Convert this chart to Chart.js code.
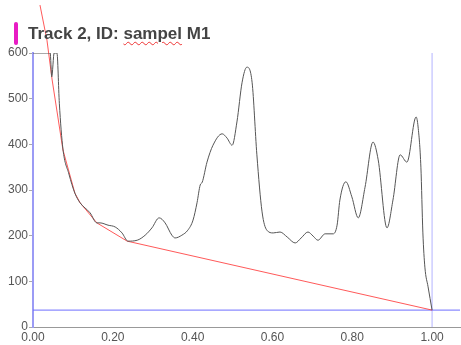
<!DOCTYPE html>
<html>
<head>
<meta charset="utf-8">
<script src="https://cdn.jsdelivr.net/npm/chart.js@4.4.1/dist/chart.umd.min.js"></script>
<style>
  html, body { margin: 0; padding: 0; background: #fff; }
  #wrap { position: relative; width: 461px; height: 345px; }
  #title {
    position: absolute; left: 28px; top: 24px;
    font: bold 17px "Liberation Sans", Arial, sans-serif; color: #444;
    white-space: nowrap;
  }
  #title .typo { text-decoration: underline wavy #e33; text-decoration-thickness: 1px; text-underline-offset: 2px; }
  #marker { position: absolute; left: 14px; top: 22px; width: 4px; height: 23px; background: #e81cc4; border-radius: 2px; }
  canvas { position: absolute; left: 0; top: 0; }
</style>
</head>
<body>
<div id="wrap">
  <canvas id="trackChart" width="461" height="345"></canvas>
  <div id="marker"></div>
  <div id="title">Track 2, ID: <span class="typo">sampel</span> M1</div>
</div>
<script>
// measured trace
var sampleX = [0, 0.035, 0.043, 0.047, 0.053, 0.060, 0.066, 0.075, 0.090, 0.105, 0.118, 0.143, 0.160, 0.168, 0.188,
    0.206, 0.223, 0.238, 0.261, 0.281, 0.298, 0.316, 0.331, 0.348, 0.356, 0.373, 0.388, 0.401, 0.411, 0.419,
    0.424, 0.436, 0.451, 0.474, 0.486, 0.499, 0.511, 0.524, 0.536, 0.549, 0.561, 0.574, 0.586, 0.602, 0.619,
    0.637, 0.657, 0.672, 0.689, 0.702, 0.714, 0.732, 0.752, 0.762, 0.769, 0.784, 0.799, 0.815, 0.832, 0.852,
    0.865, 0.887, 0.902, 0.920, 0.937, 0.960, 0.965, 0.972, 0.977, 0.982, 0.990, 1.0];
var sampleY = [600, 600, 600, 548, 600, 600, 490, 390, 335, 293, 272, 250, 228, 228, 223,
    219, 206, 188, 190, 201, 217, 239, 228, 201, 195, 201, 212, 234, 272, 311,
    317, 361, 398, 423, 414, 398, 449, 536, 569, 536, 377, 252, 212, 206, 208,
    197, 184, 195, 208, 199, 190, 204, 204, 223, 278, 318, 285, 239, 306, 405,
    366, 217, 278, 377, 361, 460, 438, 350, 206, 131, 88, 37];

// baseline (red)
var baseX = [0.0175, 0.035, 0.048, 0.075, 0.105, 0.118, 0.160, 0.236, 1.0];
var baseY = [705, 628, 541, 388, 293, 272, 228, 188, 37];

// markers
var levelY = 37;
var endX = 1.0;
var xTicks = [0, 0.2, 0.4, 0.6, 0.8, 1.0];
var yTicks = [0, 100, 200, 300, 400, 500, 600];

function pts(xs, ys) {
    var out = [];
    for (var i = 0; i < xs.length; i++) {
        out.push({ x: xs[i], y: ys[i] });
    }
    return out;
}

window.addEventListener('load', function () {
    var tickFont = { family: '"Liberation Sans", Arial, sans-serif', size: 12 };

    new Chart("trackChart", {
        type: "scatter",
        data: {
            datasets: [{
                data: pts(sampleX, sampleY),
                showLine: true,
                borderColor: "#555",
                borderWidth: 1,
                pointRadius: 0,
                cubicInterpolationMode: "monotone"
            }, {
                data: pts(baseX, baseY),
                showLine: true,
                borderColor: "rgba(255,60,60,0.85)",
                borderWidth: 1,
                pointRadius: 0,
                tension: 0,
                clip: false
            }, {
                data: [{ x: 0, y: levelY }, { x: 1.07, y: levelY }],
                showLine: true,
                borderColor: "#6e6eff",
                borderWidth: 1,
                pointRadius: 0
            }, {
                data: [{ x: endX, y: 0 }, { x: endX, y: 600 }],
                showLine: true,
                borderColor: "#b4b4ff",
                borderWidth: 1,
                pointRadius: 0
            }]
        },
        options: {
            responsive: false,
            animation: false,
            layout: { padding: { top: 53, right: 1, left: 0, bottom: 0 } },
            plugins: { legend: { display: false }, tooltip: { enabled: false } },
            scales: {
                x: {
                    type: "linear",
                    min: 0,
                    max: 1.07,
                    afterFit: function (scale) { scale.height = 18; },
                    afterBuildTicks: function (scale) {
                        scale.ticks = xTicks.map(function (v) { return { value: v }; });
                    },
                    border: { color: "#999", width: 1 },
                    grid: { display: false, drawTicks: false },
                    ticks: {
                        color: "#555",
                        font: tickFont,
                        padding: 3,
                        maxRotation: 0,
                        callback: function (v) { return v.toFixed(2); }
                    }
                },
                y: {
                    min: 0,
                    max: 600,
                    afterFit: function (scale) { scale.width = 33; },
                    afterBuildTicks: function (scale) {
                        scale.ticks = yTicks.map(function (v) { return { value: v }; });
                    },
                    border: { color: "#9b9bf5", width: 2 },
                    grid: { drawOnChartArea: false, tickLength: 4, color: "#aaa" },
                    ticks: { color: "#555", font: tickFont, padding: 1 }
                }
            }
        }
    });
});
</script>
</body>
</html>
